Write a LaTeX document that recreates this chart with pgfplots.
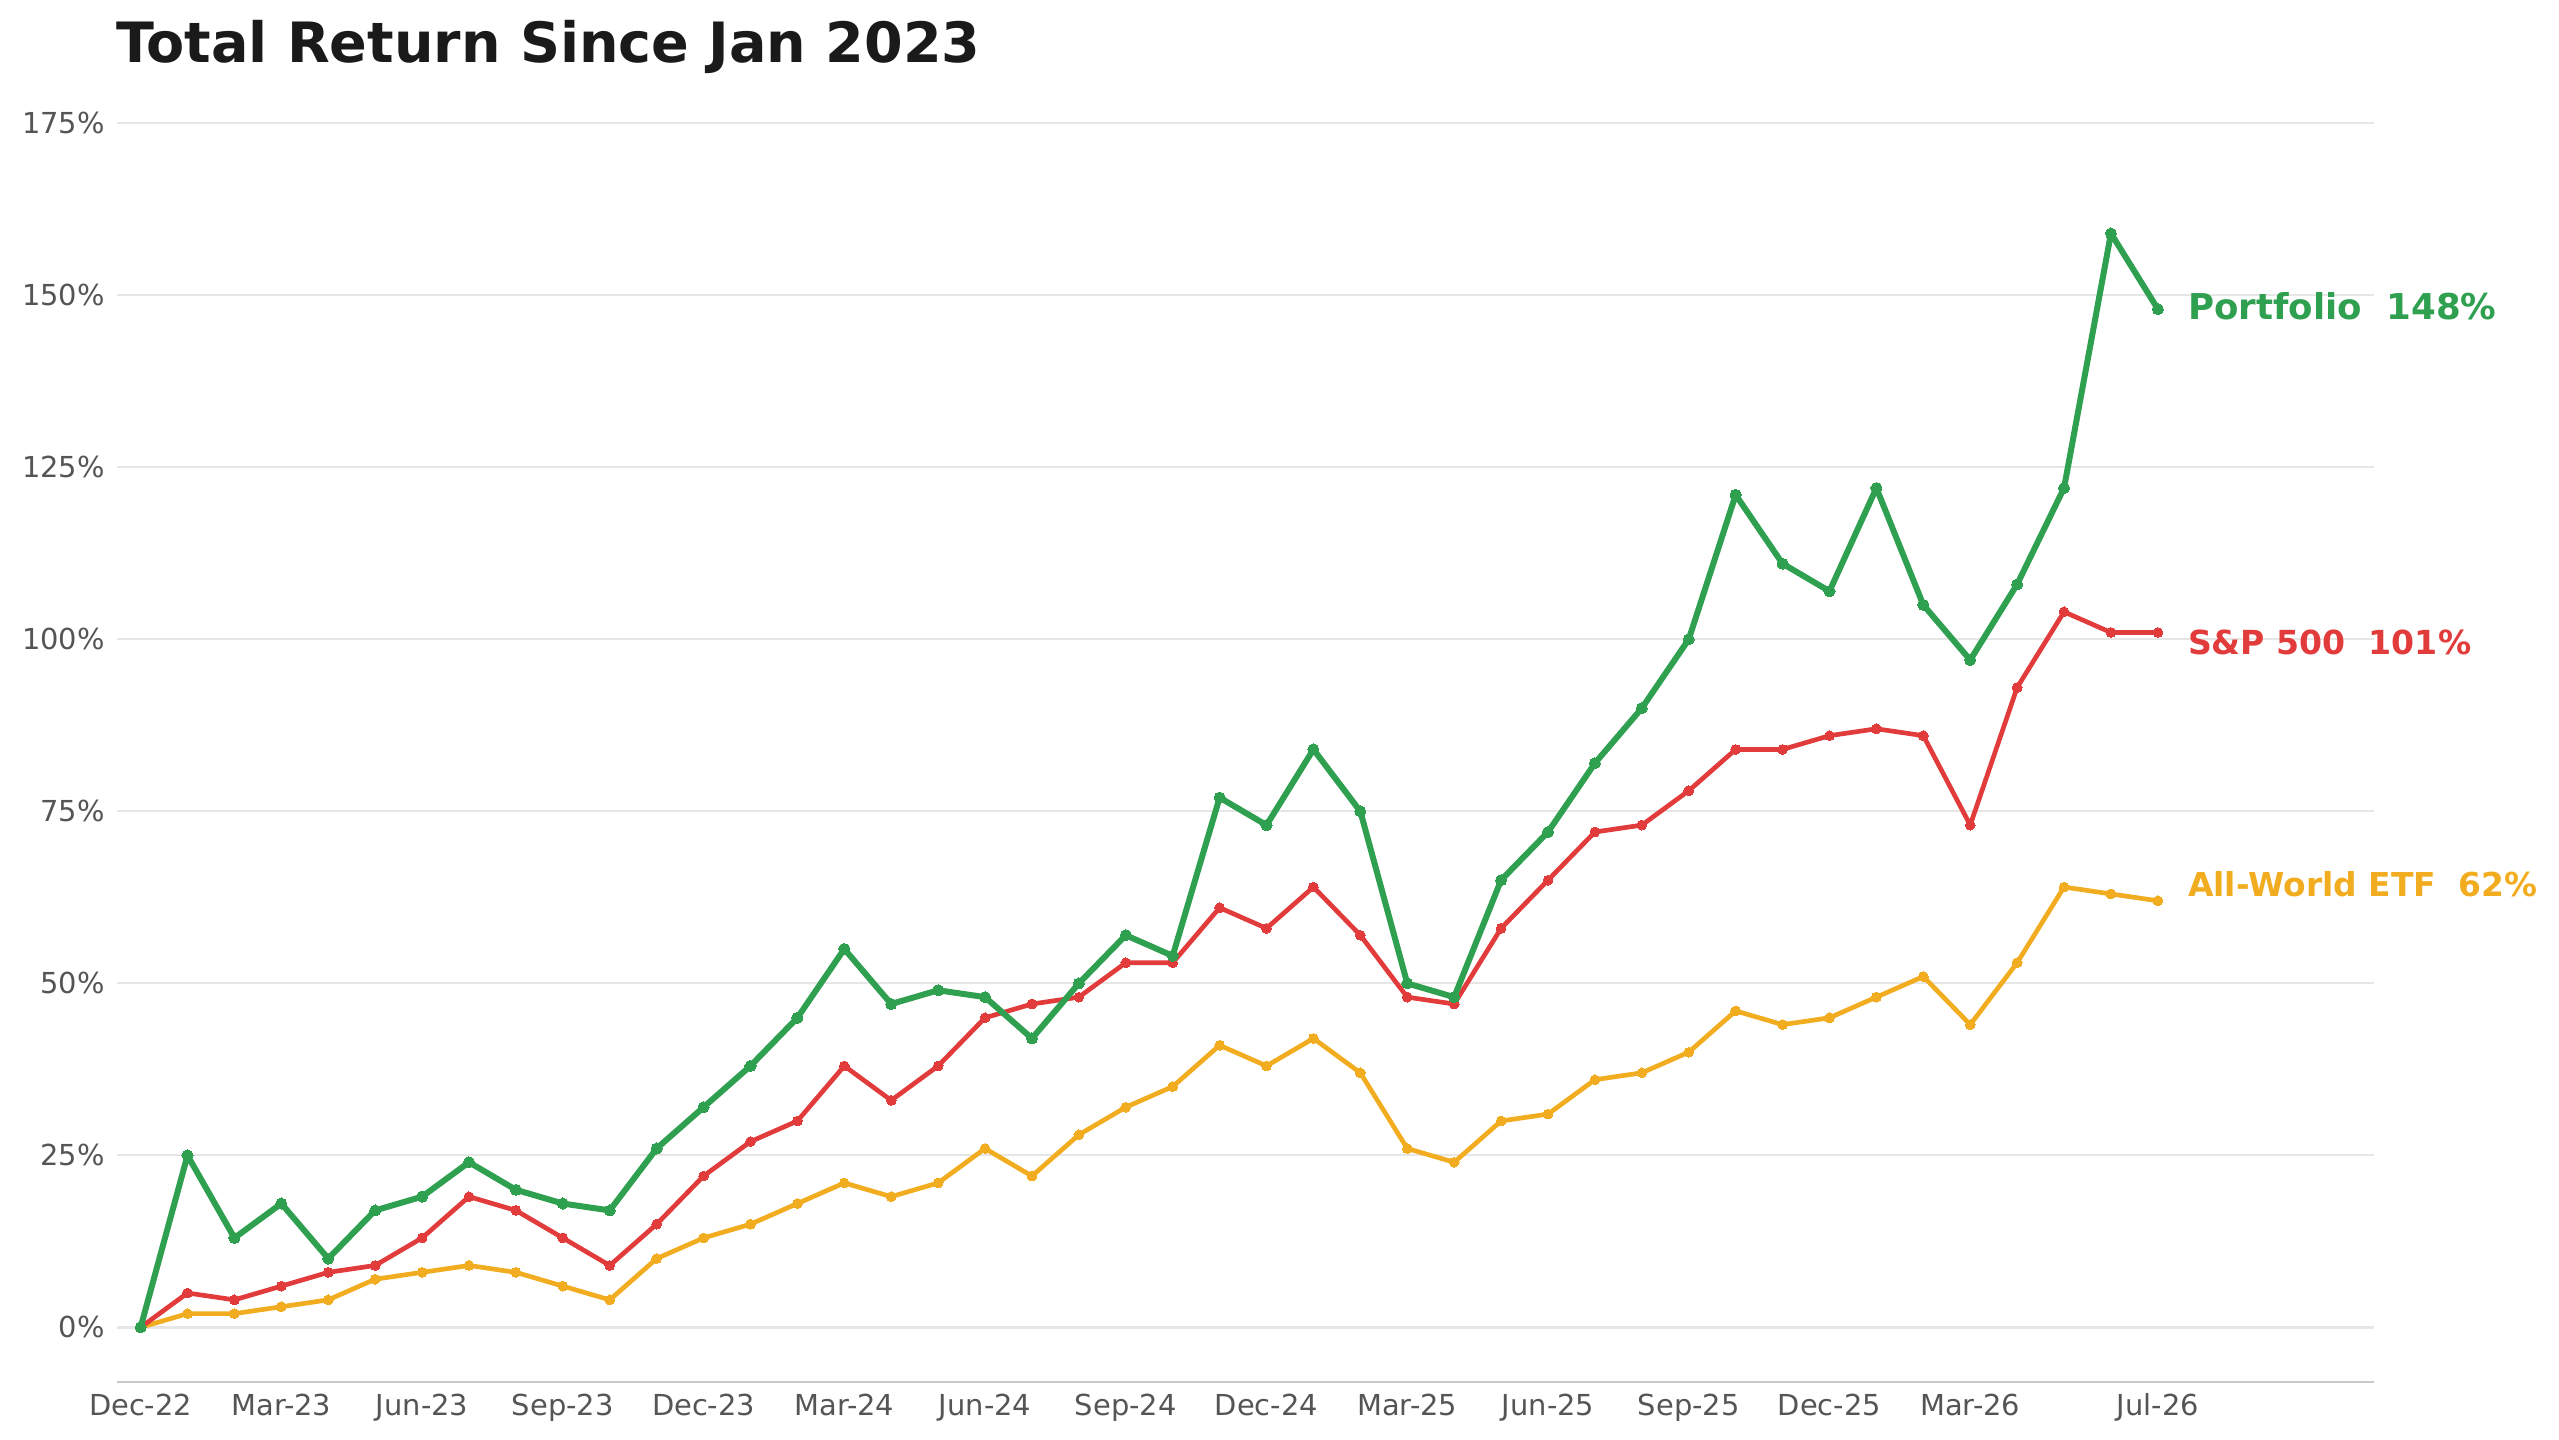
\documentclass[border=0pt]{standalone}
\usepackage{fontspec}
\setmainfont{DejaVu Sans}
\usepackage{pgfplots}
\usepackage{pgfplotstable}
\pgfplotsset{compat=1.18}
\definecolor{cgreen}{HTML}{2EA04F}
\definecolor{cred}{HTML}{E23B3B}
\definecolor{corange}{HTML}{F2AC1F}
\definecolor{ctick}{HTML}{555555}
\definecolor{cgrid}{HTML}{E6E6E6}
\definecolor{cspine}{HTML}{C8C8C8}
\definecolor{ctitle}{HTML}{1A1A1A}

\pgfplotstableread{
idx pf sp aw
0 0 0 0
1 25 5 2
2 13 4 2
3 18 6 3
4 10 8 4
5 17 9 7
6 19 13 8
7 24 19 9
8 20 17 8
9 18 13 6
10 17 9 4
11 26 15 10
12 32 22 13
13 38 27 15
14 45 30 18
15 55 38 21
16 47 33 19
17 49 38 21
18 48 45 26
19 42 47 22
20 50 48 28
21 57 53 32
22 54 53 35
23 77 61 41
24 73 58 38
25 84 64 42
26 75 57 37
27 50 48 26
28 48 47 24
29 65 58 30
30 72 65 31
31 82 72 36
32 90 73 37
33 100 78 40
34 121 84 46
35 111 84 44
36 107 86 45
37 122 87 48
38 105 86 51
39 97 73 44
40 108 93 53
41 122 104 64
42 159 101 63
43 148 101 62
}\datatable

\begin{document}
\begin{tikzpicture}
\path[use as bounding box] (-52.7pt,-26.2pt) rectangle (1098.5pt,621.6pt);
\begin{axis}[
  at={(0pt,0pt)}, anchor=south west,
  width=1015.1pt, height=575.4pt, scale only axis,
  xmin=-0.5, xmax=47.6, ymin=-7.9, ymax=178,
  axis line style={draw=none},
  major tick length=0pt,
  ymajorgrids, grid style={cgrid, line width=1pt},
  xtick={0,3,6,9,12,15,18,21,24,27,30,33,36,39,43},
  xticklabels={Dec-22,Mar-23,Jun-23,Sep-23,Dec-23,Mar-24,Jun-24,Sep-24,Dec-24,Mar-25,Jun-25,Sep-25,Dec-25,Mar-26,Jul-26},
  ytick={0,25,50,75,100,125,150,175},
  yticklabels={0\%,25\%,50\%,75\%,100\%,125\%,150\%,175\%},
  ticklabel style={font=\fontsize{13}{15}\selectfont, text=ctick},
  yticklabel style={inner sep=0pt, xshift=-5.4pt, anchor=east},
  xticklabel style={inner sep=0pt, yshift=-5.2pt, anchor=north},
  /pgf/number format/assume math mode=true,
  clip=false,
]
\draw[cspine, line width=0.9pt] (rel axis cs:0,0) -- (rel axis cs:1,0);
\addplot[corange, line width=2.1pt, line join=round, mark=*, mark size=2.2pt, mark options={solid, fill=corange, draw=corange, line width=0pt}] table[x=idx, y=aw] {\datatable};
\addplot[cred, line width=2.1pt, line join=round, mark=*, mark size=2.2pt, mark options={solid, fill=cred, draw=cred, line width=0pt}] table[x=idx, y=sp] {\datatable};
\addplot[cgreen, line width=2.7pt, line join=round, mark=*, mark size=2.5pt, mark options={solid, fill=cgreen, draw=cgreen, line width=0pt}] table[x=idx, y=pf] {\datatable};
\node[anchor=west, inner sep=0pt, xshift=13.4pt, text=cgreen, font=\fontsize{16}{19}\selectfont\bfseries] at (axis cs:43,148.4) {Portfolio\ \ 148\%};
\node[anchor=west, inner sep=0pt, xshift=13.4pt, text=cred, font=\fontsize{14.9}{18}\selectfont\bfseries] at (axis cs:43,99.5) {S\&P 500\ \ 101\%};
\node[anchor=west, inner sep=0pt, xshift=13.4pt, text=corange, font=\fontsize{14.8}{18}\selectfont\bfseries] at (axis cs:43,64.4) {All-World ETF\ \ 62\%};
\end{axis}
\node[anchor=base west, inner sep=0pt, text=ctitle, font=\fontsize{25}{30}\selectfont\bfseries] at (-0.7pt,593.4pt) {Total Return Since Jan 2023};
\end{tikzpicture}
\end{document}
